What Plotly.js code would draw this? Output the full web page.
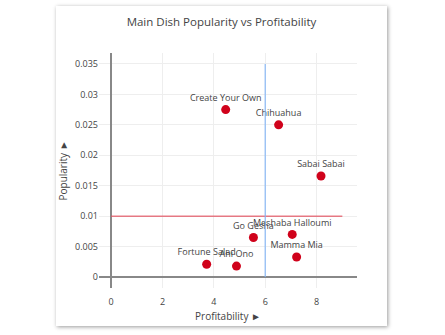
<!DOCTYPE html>
<html>
<head>
<meta charset="utf-8">
<script src="https://cdn.plot.ly/plotly-3.0.1.min.js"></script>
<style>
html,body{margin:0;padding:0;background:#fff;width:445px;height:335px;overflow:hidden;}
#card{position:absolute;left:56px;top:6px;width:331px;height:320px;background:#fff;box-shadow:1px 1px 4px rgba(0,0,0,0.4);}
#chart{width:331px;height:320px;}
</style>
</head>
<body>
<div id="card"><div id="chart"></div></div>
<script>
var dishes = ["Create Your Own","Chihuahua","Sabai Sabai","Meshaba Halloumi","Go Gesha","Mamma Mia","Fortune Salad","Ahi Ono"];
var profitability = [4.46, 6.52, 8.17, 7.05, 5.54, 7.22, 3.72, 4.88];
var popularity = [0.0275, 0.0250, 0.0166, 0.0070, 0.0065, 0.0033, 0.0021, 0.0018];
var profitThreshold = 6;
var popularityThreshold = 0.01;

var trace = {
  x: profitability, y: popularity, text: dishes,
  type: 'scatter', mode: 'markers+text', textposition: 'top center',
  textfont: {size: 9, color: '#444'},
  marker: {color: '#d0021b', size: 9},
  hoverinfo: 'text'
};
var layout = {
  width: 331, height: 320,
  margin: {l: 43, r: 30, t: 47, b: 38},
  paper_bgcolor: '#fff', plot_bgcolor: '#fff',
  font: {family: '"Open Sans", verdana, arial, sans-serif', color: '#444'},
  title: {text: 'Main Dish Popularity vs Profitability', font: {size: 11.5, color: '#444'}, x: 0.5, y: 0.95, yanchor: 'middle'},
  showlegend: false,
  xaxis: {
    range: [-0.47, 9.57], dtick: 2, tickfont: {size: 9},
    gridcolor: '#eee', zeroline: true, zerolinecolor: '#888', zerolinewidth: 2,
    showline: false, ticks: 'outside', ticklen: 5, tickcolor: 'rgba(0,0,0,0)',
    title: {text: 'Profitability ►', font: {size: 10}, standoff: 6}
  },
  yaxis: {
    range: [-0.0018, 0.0368], dtick: 0.005, tickfont: {size: 9},
    gridcolor: '#eee', zeroline: true, zerolinecolor: '#888', zerolinewidth: 2,
    showline: false, ticks: '',
    title: {text: 'Popularity ►', font: {size: 10}, standoff: 6}
  },
  shapes: [
    {type: 'line', xref: 'x', yref: 'y', x0: 0, x1: 9, y0: popularityThreshold, y1: popularityThreshold,
     line: {color: 'rgba(225,80,95,0.75)', width: 1.5}},
    {type: 'line', xref: 'x', yref: 'y', x0: profitThreshold, x1: profitThreshold, y0: 0, y1: 0.035,
     line: {color: 'rgba(130,180,245,0.75)', width: 1.5}}
  ]
};
Plotly.newPlot('chart', [trace], layout, {displayModeBar: false, staticPlot: true});
</script>
</body>
</html>
